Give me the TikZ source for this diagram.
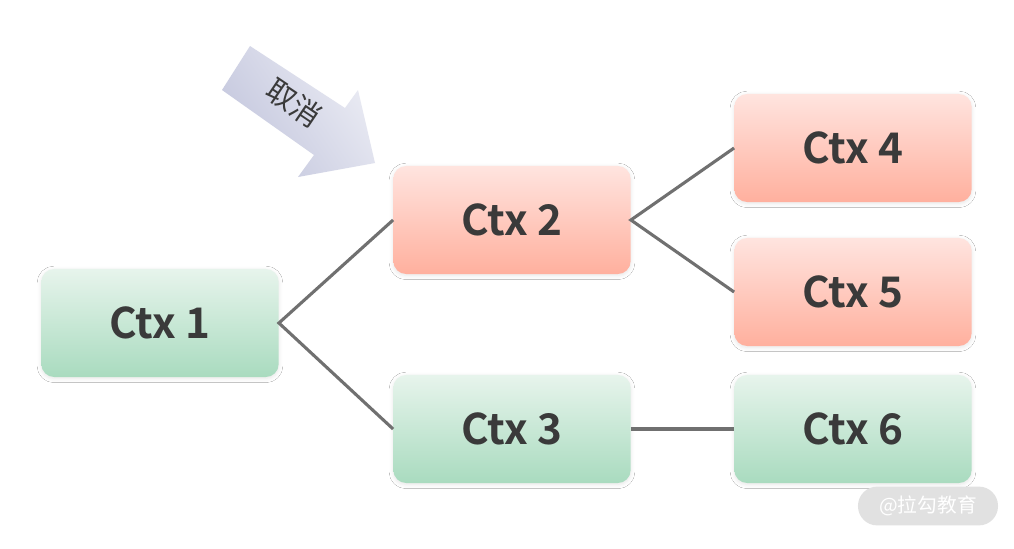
\documentclass[tikz,border=0pt]{standalone}
\usepackage{fontspec}
\setmainfont{Noto Sans}
\newfontfamily\cjk{Noto Sans CJK SC}
\newfontfamily\ctxfont{Noto Sans CJK SC Bold}
\usepackage{tikz}
\definecolor{greentop}{HTML}{E7F4EC}
\definecolor{greenbot}{HTML}{A9DBBF}
\definecolor{redtop}{HTML}{FFE4DF}
\definecolor{redbot}{HTML}{FFB09E}
\definecolor{linkgray}{HTML}{707070}
\definecolor{textdark}{HTML}{3A3A3A}
\definecolor{arrowdark}{HTML}{C3C6DD}
\definecolor{arrowlight}{HTML}{EBECF4}
\definecolor{wmgray}{HTML}{E1E1E1}
\tikzset{ctxbox/.style={rectangle,rounded corners=0.32cm,minimum width=5.93cm,minimum height=2.7cm,
           text=textdark,font=\ctxfont\fontsize{30}{36}\selectfont,
           blur shadow={shadow blur steps=6,shadow xshift=0pt,shadow yshift=-1pt,shadow blur radius=3pt,shadow opacity=10}},
         greenbox/.style={ctxbox,top color=greentop,bottom color=greenbot},
         redbox/.style={ctxbox,top color=redtop,bottom color=redbot},
         link/.style={draw=linkgray,line width=2.2pt}}
\usetikzlibrary{shadows.blur}

\begin{document}
\begin{tikzpicture}[x=0.025cm,y=-0.025cm]
\fill[white] (0,0) rectangle (1014,548);
\useasboundingbox (0,0) rectangle (1014,548);

% the cancel arrow
\shade[top color=arrowdark,bottom color=arrowlight,shading angle=124]
  (250,46) -- (345,108) -- (358,90) -- (375,163) -- (298,177) -- (314,155) -- (222,90) -- cycle;
\node[rotate=-34,text=textdark,font=\cjk\fontsize{21}{24}\selectfont] (cancel) at (294,103) {取消};

\node[greenbox] (ctx1) at (160,323) {Ctx 1};
\node[redbox]   (ctx2) at (512,220) {Ctx 2};
\node[greenbox] (ctx3) at (512,429) {Ctx 3};
\node[redbox]   (ctx4) at (853,148) {Ctx 4};
\node[redbox]   (ctx5) at (853,292) {Ctx 5};
\node[greenbox] (ctx6) at (853,429) {Ctx 6};

\draw[link] (ctx2.west) -- (ctx1.east) -- (ctx3.west);
\draw[link] (ctx4.west) -- (ctx2.east) -- (ctx5.west);
\draw[link] (ctx3.east) -- (ctx6.west);

% watermark
\node[fill=wmgray,rounded corners=0.48cm,minimum width=3.5cm,minimum height=0.97cm,
      text=white,font=\cjk\fontsize{14}{16}\selectfont] (mark) at (928,506) {@拉勾教育};
\end{tikzpicture}
\end{document}
